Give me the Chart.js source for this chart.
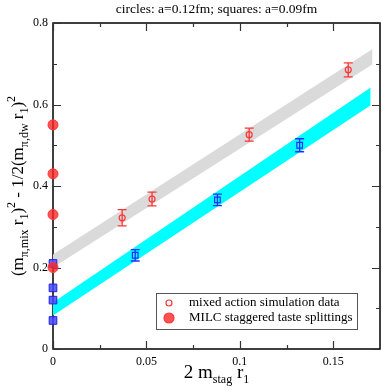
<!DOCTYPE html>
<html>
<head>
<meta charset="utf-8">
<script src="https://cdn.jsdelivr.net/npm/chart.js@4"></script>
<style>
  body { margin: 0; background: #fff; }
  canvas { display: block; }
</style>
</head>
<body>
<canvas id="chart" width="382" height="391"></canvas>
<script>
// Mixed action points, a=0.12fm (circles)
const mixX012 = [0.037, 0.053, 0.105, 0.158];
const mixY012 = [0.322, 0.368, 0.526, 0.685];
const mixErr012 = [0.020, 0.017, 0.016, 0.017];

// Mixed action points, a=0.09fm (squares)
const mixX009 = [0.044, 0.088, 0.132];
const mixY009 = [0.230, 0.366, 0.500];
const mixErr009 = [0.014, 0.014, 0.016];

// MILC staggered taste splittings at x=0
const milcY012 = [0.55, 0.43, 0.33, 0.20];
const milcY009 = [0.21, 0.15, 0.12, 0.07];

// Fit bands (lower / upper edge at the two ends)
const band012X = [0, 0.171];
const band012Lo = [0.200, 0.699];
const band012Hi = [0.232, 0.736];
const band009X = [0, 0.170];
const band009Lo = [0.082, 0.598];
const band009Hi = [0.114, 0.642];

// Axes
const xTicks = [0, 0.05, 0.1, 0.15];
const xTickLabels = ['0', '0.05', '0.1', '0.15'];
const xMinor = [0.025, 0.075, 0.125];
const yTicks = [0, 0.2, 0.4, 0.6, 0.8];
const yTickLabels = ['0', '0.2', '0.4', '0.6', '0.8'];
const yMinor = [0.1, 0.3, 0.5, 0.7];

const SERIF = '"Liberation Serif", "DejaVu Serif", serif';
const RED = '#ff3434';
const BLUE = '#2b2bff';

function pts(xs, ys) {
    return xs.map((x, i) => ({ x: x, y: ys[i] }));
}

// draw a run of text pieces with sub/superscripts
function drawRich(ctx, parts, x, y) {
    let total = 0;
    parts.forEach(p => {
        ctx.font = p.size + 'px ' + SERIF;
        total += ctx.measureText(p.t).width;
    });
    let cx = x - total / 2;
    parts.forEach(p => {
        ctx.font = p.size + 'px ' + SERIF;
        ctx.fillText(p.t, cx, y + (p.dy || 0));
        cx += ctx.measureText(p.t).width;
    });
}

const axesPlugin = {
    id: 'axesPlugin',
    beforeDatasetsDraw(chart) {
        const ctx = chart.ctx;
        const a = chart.chartArea;
        const xs = chart.scales.x, ys = chart.scales.y;
        ctx.save();
        ctx.strokeStyle = '#000';
        ctx.lineWidth = 1.5;
        ctx.strokeRect(a.left, a.top, a.right - a.left, a.bottom - a.top);

        // inward ticks on all four sides
        ctx.lineWidth = 1.2;
        ctx.strokeStyle = '#333';
        ctx.beginPath();
        xTicks.concat(xMinor).forEach(v => {
            const len = xMinor.includes(v) ? 4 : 8;
            const px = Math.round(xs.getPixelForValue(v)) + 0.5;
            ctx.moveTo(px, a.bottom); ctx.lineTo(px, a.bottom - len);
            ctx.moveTo(px, a.top); ctx.lineTo(px, a.top + len);
        });
        yTicks.concat(yMinor).forEach(v => {
            const len = yMinor.includes(v) ? 4 : 8;
            const py = Math.round(ys.getPixelForValue(v)) + 0.5;
            ctx.moveTo(a.left, py); ctx.lineTo(a.left + len, py);
            ctx.moveTo(a.right, py); ctx.lineTo(a.right - len, py);
        });
        ctx.stroke();

        // tick labels
        ctx.fillStyle = '#000';
        ctx.font = '12px ' + SERIF;
        ctx.textAlign = 'center';
        ctx.textBaseline = 'alphabetic';
        xTicks.forEach((v, i) => {
            ctx.fillText(xTickLabels[i], xs.getPixelForValue(v), a.bottom + 16);
        });
        ctx.textAlign = 'right';
        ctx.textBaseline = 'middle';
        yTicks.forEach((v, i) => {
            ctx.fillText(yTickLabels[i], a.left - 5, ys.getPixelForValue(v));
        });

        // titles
        ctx.textAlign = 'left';
        ctx.textBaseline = 'alphabetic';
        ctx.font = '13.5px ' + SERIF;
        const title = 'circles: a=0.12fm; squares: a=0.09fm';
        ctx.fillText(title, (a.left + a.right) / 2 - ctx.measureText(title).width / 2, 13);

        drawRich(ctx, [
            { t: '2 m', size: 19 },
            { t: 'stag', size: 12, dy: 5 },
            { t: ' r', size: 19 },
            { t: '1', size: 12, dy: 5 }
        ], (a.left + a.right) / 2, 378);

        ctx.translate(23, (a.top + a.bottom) / 2);
        ctx.rotate(-Math.PI / 2);
        drawRich(ctx, [
            { t: '(m', size: 17 },
            { t: 'π,mix', size: 12, dy: 5 },
            { t: ' r', size: 17 },
            { t: '1', size: 12, dy: 5 },
            { t: ')', size: 17 },
            { t: '2', size: 12, dy: -8 },
            { t: ' - 1/2(m', size: 17 },
            { t: 'π,dw', size: 12, dy: 5 },
            { t: ' r', size: 17 },
            { t: '1', size: 12, dy: 5 },
            { t: ')', size: 17 },
            { t: '2', size: 12, dy: -8 }
        ], 0, 0);
        ctx.restore();
    },
    afterDatasetsDraw(chart) {
        const ctx = chart.ctx;
        const xs = chart.scales.x, ys = chart.scales.y;
        ctx.save();
        ctx.lineWidth = 1.3;
        function bars(xv, yv, ev, color, cap) {
            ctx.strokeStyle = color;
            ctx.beginPath();
            xv.forEach((x, i) => {
                const px = xs.getPixelForValue(x);
                const top = ys.getPixelForValue(yv[i] + ev[i]);
                const bot = ys.getPixelForValue(yv[i] - ev[i]);
                ctx.moveTo(px, top); ctx.lineTo(px, bot);
                ctx.moveTo(px - cap, top); ctx.lineTo(px + cap, top);
                ctx.moveTo(px - cap, bot); ctx.lineTo(px + cap, bot);
            });
            ctx.stroke();
        }
        bars(mixX012, mixY012, mixErr012, RED, 4.5);
        bars(mixX009, mixY009, mixErr009, BLUE, 4.5);

        // legend box
        const lx = 156, ly = 293, lw = 201, lh = 36;
        ctx.fillStyle = '#fff';
        ctx.fillRect(lx, ly, lw, lh);
        ctx.strokeStyle = '#555';
        ctx.lineWidth = 1;
        ctx.strokeRect(lx + 0.5, ly + 0.5, lw, lh);
        ctx.strokeStyle = RED;
        ctx.lineWidth = 1.2;
        ctx.beginPath();
        ctx.arc(169, 303, 3, 0, Math.PI * 2);
        ctx.stroke();
        ctx.fillStyle = 'rgba(255,40,40,0.8)';
        ctx.beginPath();
        ctx.arc(169, 318, 5, 0, Math.PI * 2);
        ctx.fill();
        ctx.stroke();
        ctx.fillStyle = '#000';
        ctx.font = '13px ' + SERIF;
        ctx.textBaseline = 'middle';
        ctx.fillText('mixed action simulation data', 189, 303);
        ctx.fillText('MILC staggered taste splittings', 189, 318);
        ctx.restore();
    }
};

new Chart(document.getElementById('chart'), {
    type: 'line',
    data: {
        datasets: [
            {
                data: pts(mixX012, mixY012),
                showLine: false,
                pointStyle: 'circle',
                pointRadius: 3,
                borderColor: RED,
                backgroundColor: 'rgba(0,0,0,0)',
                pointBorderWidth: 1.2
            },
            {
                data: pts(mixX009, mixY009),
                showLine: false,
                pointStyle: 'rect',
                pointRadius: 4,
                borderColor: BLUE,
                backgroundColor: 'rgba(0,0,0,0)',
                pointBorderWidth: 1.2
            },
            {
                data: milcY012.map(y => ({ x: 0, y: y })),
                showLine: false,
                clip: false,
                pointStyle: 'circle',
                pointRadius: 5,
                borderColor: RED,
                backgroundColor: 'rgba(255,40,40,0.8)',
                pointBorderWidth: 1
            },
            {
                data: milcY009.map(y => ({ x: 0, y: y })),
                showLine: false,
                clip: false,
                pointStyle: 'rect',
                pointRadius: 5.4,
                borderColor: '#2222dd',
                backgroundColor: 'rgba(70,70,255,0.85)',
                pointBorderWidth: 1
            },
            {
                data: pts(band012X, band012Lo),
                borderWidth: 0,
                pointRadius: 0,
                fill: false
            },
            {
                data: pts(band012X, band012Hi),
                borderWidth: 0,
                pointRadius: 0,
                fill: '-1',
                backgroundColor: '#dadada'
            },
            {
                data: pts(band009X, band009Lo),
                borderWidth: 0,
                pointRadius: 0,
                fill: false
            },
            {
                data: pts(band009X, band009Hi),
                borderWidth: 0,
                pointRadius: 0,
                fill: '-1',
                backgroundColor: '#00ffff'
            }
        ]
    },
    options: {
        responsive: false,
        devicePixelRatio: 1,
        animation: false,
        layout: { autoPadding: false, padding: { left: 53, right: 2, top: 23, bottom: 42 } },
        plugins: {
            legend: { display: false },
            tooltip: { enabled: false }
        },
        scales: {
            x: { type: 'linear', min: 0, max: 0.175, display: false },
            y: { type: 'linear', min: 0, max: 0.8, display: false }
        }
    },
    plugins: [axesPlugin]
});
</script>
</body>
</html>
